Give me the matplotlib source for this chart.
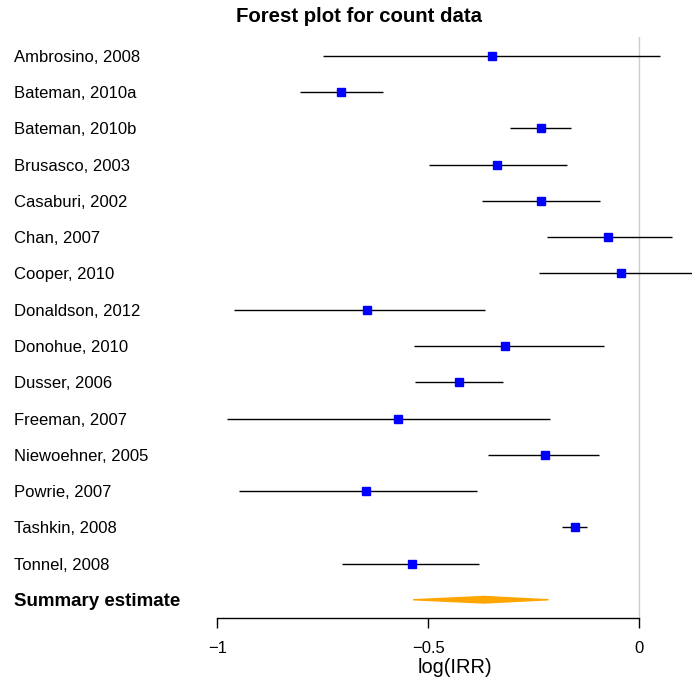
import numpy as np
import matplotlib.pyplot as plt
import matplotlib.transforms as mtransforms
from matplotlib.patches import Polygon

plt.rcParams['font.family'] = ['Liberation Sans', 'DejaVu Sans']

# log incidence rate ratios with 95% CI per study
studies = ["Ambrosino, 2008", "Bateman, 2010a", "Bateman, 2010b", "Brusasco, 2003",
           "Casaburi, 2002", "Chan, 2007", "Cooper, 2010", "Donaldson, 2012",
           "Donohue, 2010", "Dusser, 2006", "Freeman, 2007", "Niewoehner, 2005",
           "Powrie, 2007", "Tashkin, 2008", "Tonnel, 2008"]
est = [-0.349, -0.707, -0.233, -0.337, -0.232, -0.073, -0.043, -0.645,
       -0.317, -0.427, -0.572, -0.223, -0.648, -0.152, -0.539]
lower = [-0.750, -0.804, -0.307, -0.499, -0.373, -0.219, -0.237, -0.961,
         -0.535, -0.532, -0.976, -0.359, -0.949, -0.182, -0.705]
upper = [0.049, -0.608, -0.162, -0.171, -0.094, 0.077, 0.160, -0.366,
         -0.084, -0.324, -0.211, -0.096, -0.385, -0.124, -0.379]

summary_est = -0.368
summary_lo = -0.536
summary_hi = -0.215

W, H = 692, 684
fig = plt.figure(figsize=(W / 100, H / 100), dpi=100)
ax = fig.add_axes([217.3 / W, 1 - 617.7 / H, (692 - 217.3) / W, (617.7 - 37) / H])

ypos = np.arange(len(studies))

ax.axvline(0, color='#cccccc', lw=1, zorder=1)
ax.hlines(ypos, lower, upper, color='black', lw=1, zorder=2)
ax.plot(est, ypos, 's', color='#0000ff', ms=6.2, zorder=3)

ys = len(studies)
dh = 0.09
diamond = Polygon([(summary_lo, ys), (summary_est, ys - dh), (summary_hi, ys), (summary_est, ys + dh)],
                  closed=True, facecolor='orange', edgecolor='orange', lw=1, zorder=3)
ax.add_patch(diamond)

ax.set_xlim(-1, 0.125)
ax.set_ylim(15.495, -0.524)

for s in ['top', 'right', 'left']:
    ax.spines[s].set_visible(False)
ax.spines['bottom'].set_bounds(-1, 0)
ax.spines['bottom'].set_linewidth(1)
ax.set_yticks([])
ax.set_xticks([-1, -0.5, 0])
ax.set_xticklabels(['\u22121', '\u22120.5', '0'], fontsize=12)
ax.tick_params(axis='x', length=7.2, width=1, pad=9.5)
ax.set_xlabel('log(IRR)', fontsize=14.4, labelpad=1.5)

# study labels in the left margin
trans = mtransforms.blended_transform_factory(fig.transFigure, ax.transData)
for i, name in enumerate(studies):
    ax.text(14 / W, i, name, transform=trans, fontsize=12, va='center_baseline', ha='left')
ax.text(14 / W, ys, "Summary estimate", transform=trans, fontsize=13.5,
        fontweight='bold', va='center_baseline', ha='left')

fig.text(358.5 / W, 1 - 17 / H, "Forest plot for count data", fontsize=14.7,
         fontweight='bold', ha='center', va='center')

fig.savefig('out.png', dpi=100)
